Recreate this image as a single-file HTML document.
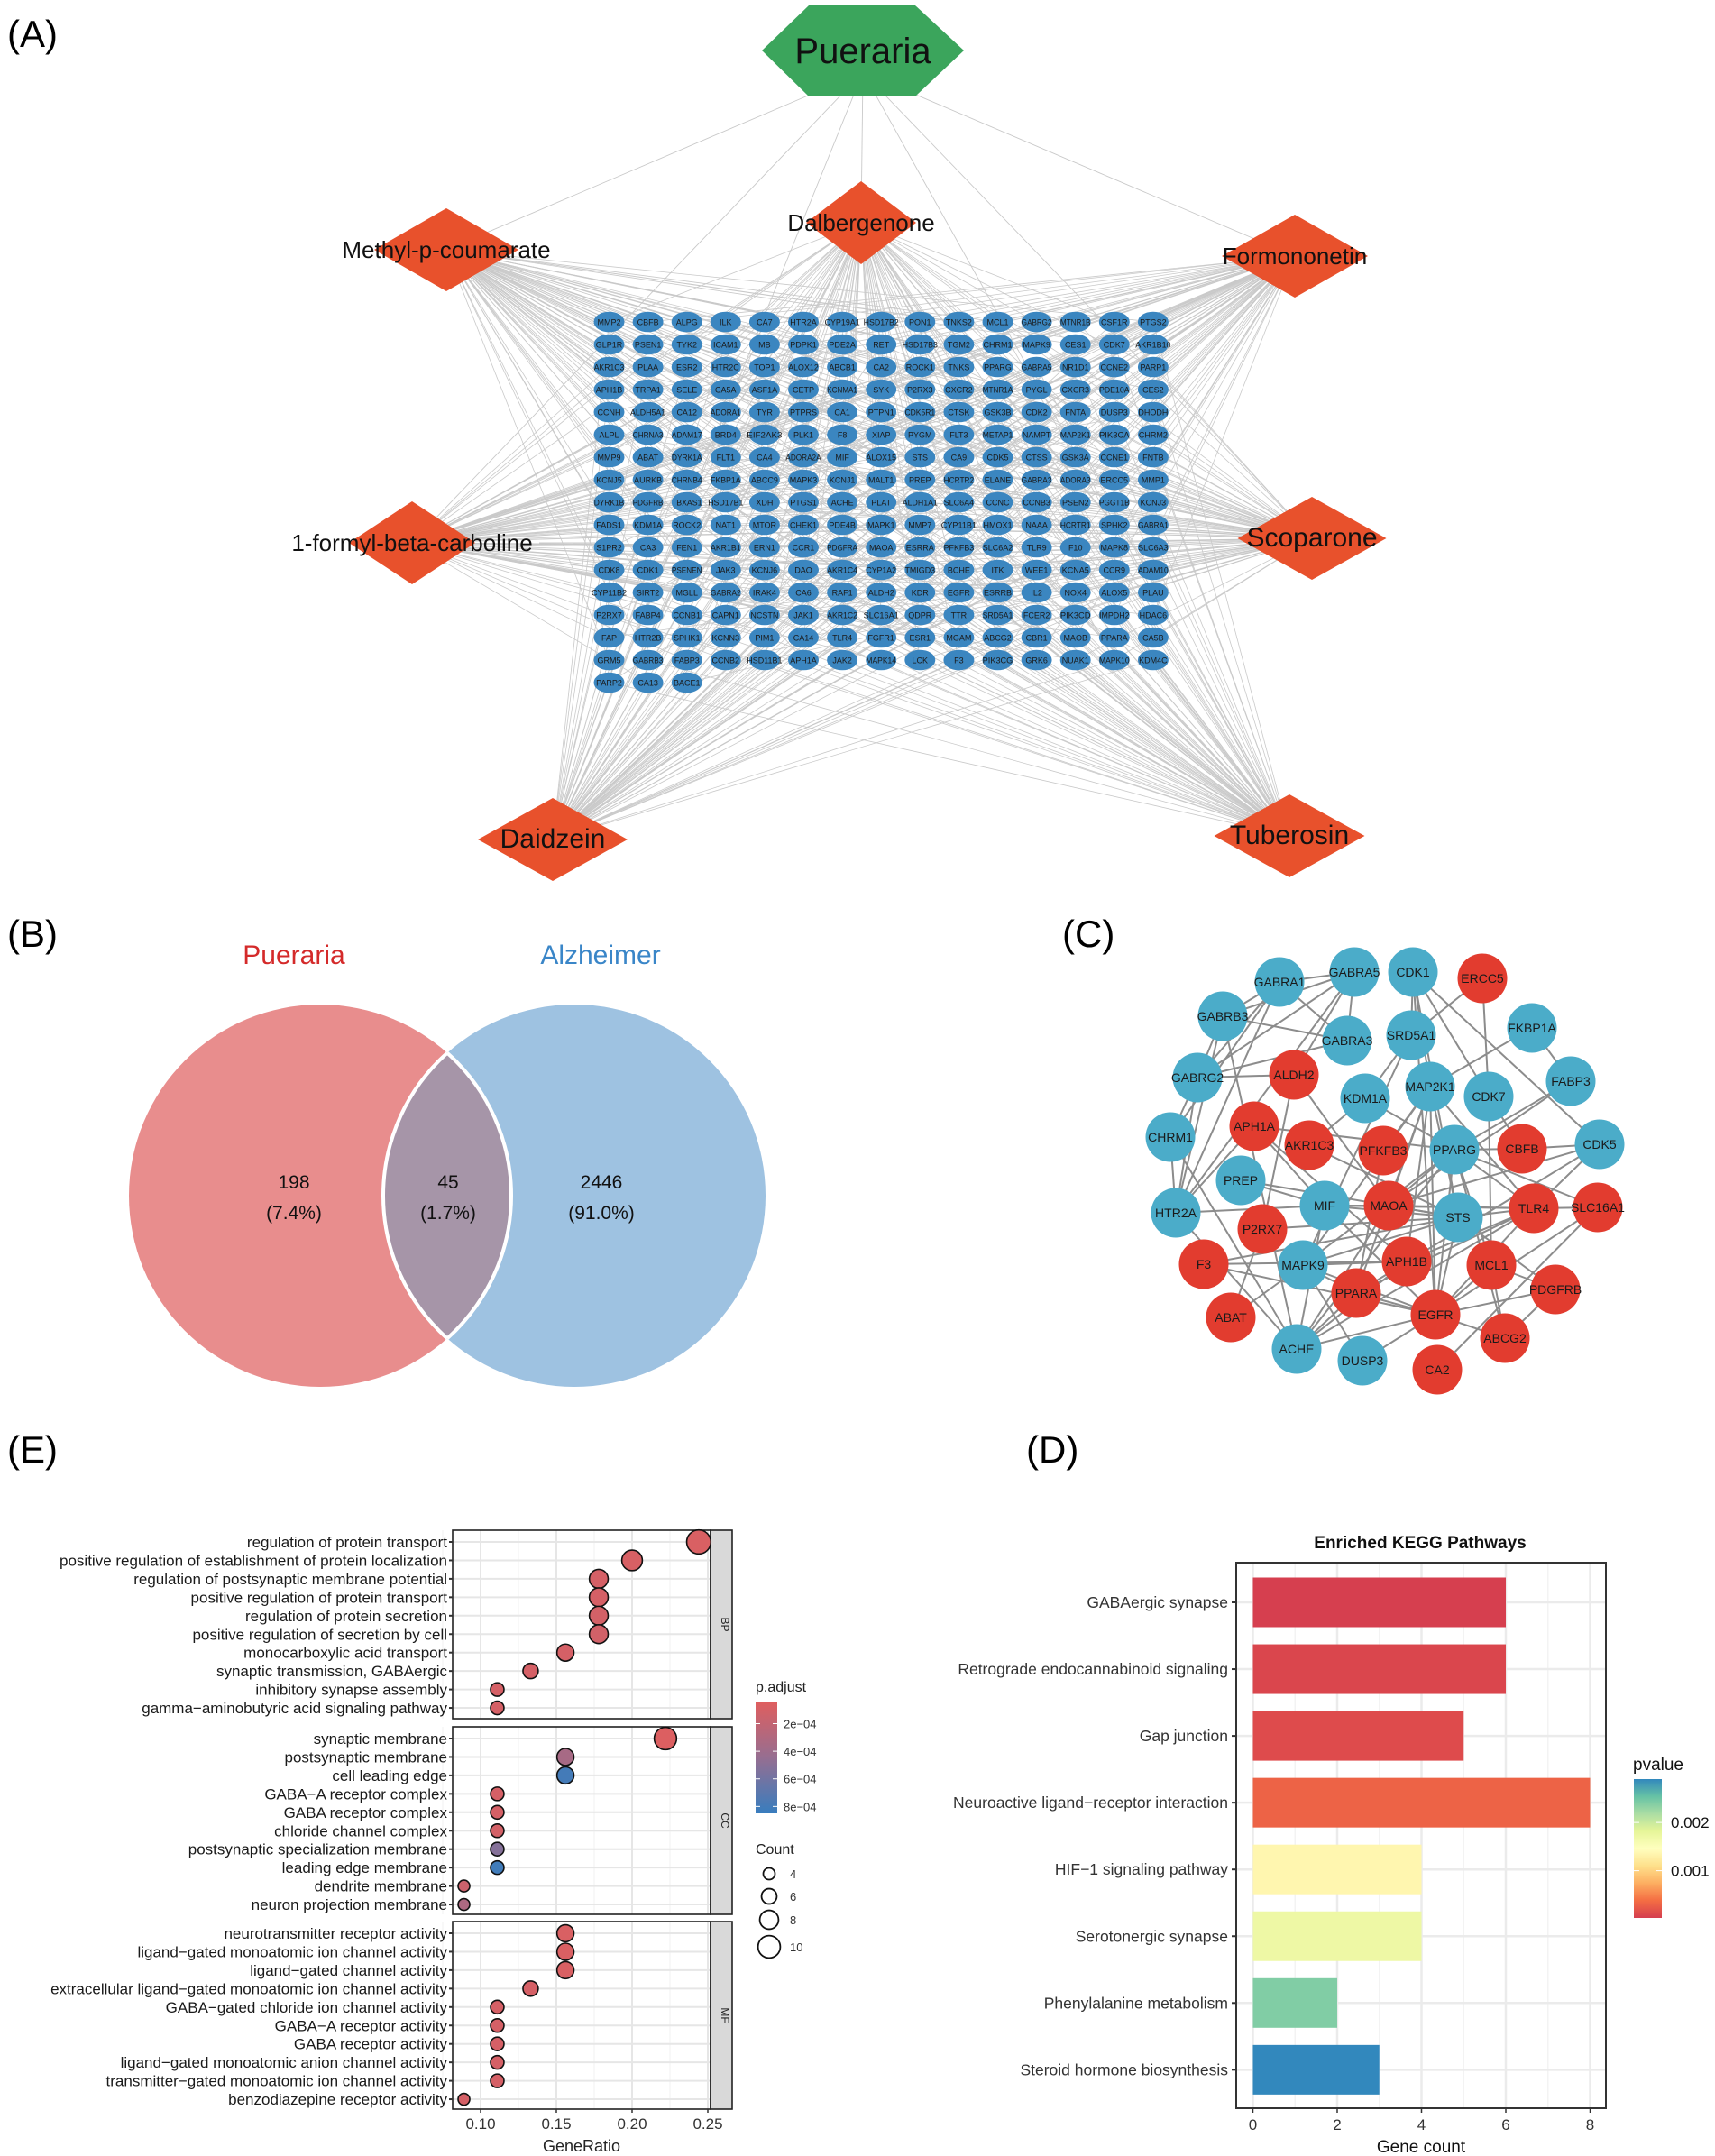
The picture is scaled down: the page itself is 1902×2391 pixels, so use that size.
<!DOCTYPE html>
<html><head><meta charset="utf-8"><title>Pueraria network pharmacology figure</title>
<style>
html,body{margin:0;padding:0;background:#fff;}
svg{display:block;font-family:"Liberation Sans",Arial,sans-serif;}
</style></head>
<body>
<svg id="fig" xmlns="http://www.w3.org/2000/svg" width="1902" height="2391" viewBox="0 0 1902 2391">
<rect width="1902" height="2391" fill="#fff"/>
<g id="panelA">
  <g id="aEdges"></g>
  <g id="aNodes"></g>
  <g id="aComp"></g>
</g>
<text x="8" y="52" font-size="42">(A)</text>
<text x="8" y="1050" font-size="42">(B)</text>
<text x="1178" y="1050" font-size="42">(C)</text>
<text x="8" y="1622" font-size="42">(E)</text>
<text x="1138" y="1622" font-size="42">(D)</text>

<g id="panelB">
  <defs><clipPath id="clipL"><circle cx="355" cy="1326" r="212"/></clipPath><clipPath id="clipR"><circle cx="637" cy="1326" r="212"/></clipPath></defs>
  <circle cx="355" cy="1326" r="212" fill="#e88d8d"/>
  <circle cx="637" cy="1326" r="212" fill="#9ec2e1"/>
  <circle cx="637" cy="1326" r="212" fill="#a695a8" clip-path="url(#clipL)"/>
  <circle cx="355" cy="1326" r="212" fill="none" stroke="#fff" stroke-width="4" clip-path="url(#clipR)"/>
  <circle cx="637" cy="1326" r="212" fill="none" stroke="#fff" stroke-width="4" clip-path="url(#clipL)"/>
  <text x="326" y="1069" font-size="30" fill="#d42a2a" text-anchor="middle">Pueraria</text>
  <text x="666" y="1069" font-size="30" fill="#3a86c8" text-anchor="middle">Alzheimer</text>
  <g font-size="21" text-anchor="middle" fill="#111">
    <text x="326" y="1318">198</text>
    <text x="326" y="1352">(7.4%)</text>
    <text x="497" y="1318">45</text>
    <text x="497" y="1352">(1.7%)</text>
    <text x="667" y="1318">2446</text>
    <text x="667" y="1352">(91.0%)</text>
  </g>
</g>

<g id="panelC">
  <g id="cEdges"></g><g id="cNodes"></g>
</g>

<g id="panelE"></g>
<g id="panelD"></g>
</svg>

<script>
var NS="http://www.w3.org/2000/svg";
function mk(tag,attrs,parent){var e=document.createElementNS(NS,tag);for(var k in attrs)e.setAttribute(k,attrs[k]);if(parent)parent.appendChild(e);return e;}

/* ===== Panel A data ===== */
var targetRows=[
"MMP2 CBFB ALPG ILK CA7 HTR2A CYP19A1 HSD17B2 PON1 TNKS2 MCL1 GABRG2 MTNR1B CSF1R PTGS2",
"GLP1R PSEN1 TYK2 ICAM1 MB PDPK1 PDE2A RET HSD17B3 TGM2 CHRM1 MAPK9 CES1 CDK7 AKR1B10",
"AKR1C3 PLAA ESR2 HTR2C TOP1 ALOX12 ABCB1 CA2 ROCK1 TNKS PPARG GABRA5 NR1D1 CCNE2 PARP1",
"APH1B TRPA1 SELE CA5A ASF1A CETP KCNMA1 SYK P2RX3 CXCR2 MTNR1A PYGL CXCR3 PDE10A CES2",
"CCNH ALDH5A1 CA12 ADORA1 TYR PTPRS CA1 PTPN1 CDK5R1 CTSK GSK3B CDK2 FNTA DUSP3 DHODH",
"ALPL CHRNA3 ADAM17 BRD4 EIF2AK3 PLK1 F8 XIAP PYGM FLT3 METAP1 NAMPT MAP2K1 PIK3CA CHRM2",
"MMP9 ABAT DYRK1A FLT1 CA4 ADORA2A MIF ALOX15 STS CA9 CDK5 CTSS GSK3A CCNE1 FNTB",
"KCNJ5 AURKB CHRNB4 FKBP1A ABCC9 MAPK3 KCNJ1 MALT1 PREP HCRTR2 ELANE GABRA3 ADORA3 ERCC5 MMP1",
"DYRK1B PDGFRB TBXAS1 HSD17B1 XDH PTGS1 ACHE PLAT ALDH1A1 SLC6A4 CCNC CCNB3 PSEN2 PGGT1B KCNJ3",
"FADS1 KDM1A ROCK2 NAT1 MTOR CHEK1 PDE4B MAPK1 MMP7 CYP11B1 HMOX1 NAAA HCRTR1 SPHK2 GABRA1",
"S1PR2 CA3 FEN1 AKR1B1 ERN1 CCR1 PDGFRA MAOA ESRRA PFKFB3 SLC6A2 TLR9 F10 MAPK8 SLC6A3",
"CDK8 CDK1 PSENEN JAK3 KCNJ6 DAO AKR1C4 CYP1A2 TMIGD3 BCHE ITK WEE1 KCNA5 CCR9 ADAM10",
"CYP11B2 SIRT2 MGLL GABRA2 IRAK4 CA6 RAF1 ALDH2 KDR EGFR ESRRB IL2 NOX4 ALOX5 PLAU",
"P2RX7 FABP4 CCNB1 CAPN1 NCSTN JAK1 AKR1C2 SLC16A1 QDPR TTR SRD5A1 FCER2 PIK3CD IMPDH2 HDAC6",
"FAP HTR2B SPHK1 KCNN3 PIM1 CA14 TLR4 FGFR1 ESR1 MGAM ABCG2 CBR1 MAOB PPARA CA5B",
"GRM5 GABRB3 FABP3 CCNB2 HSD11B1 APH1A JAK2 MAPK14 LCK F3 PIK3CG GRK6 NUAK1 MAPK10 KDM4C",
"PARP2 CA13 BACE1"];
var compoundNames=["Dalbergenone","Methyl-p-coumarate","Formononetin","1-formyl-beta-carboline","Scoparone","Daidzein","Tuberosin"];
var compoundX=[955,495,1436,457,1455,613,1430];
var compoundY=[247,277,284,602,597,931,927];
var compoundW=[122,160,162,140,165,166,167];

(function(){
  var gE=document.getElementById('aEdges'),gN=document.getElementById('aNodes'),gC=document.getElementById('aComp');
  var nodes=[];
  targetRows.forEach(function(r,i){r.split(' ').forEach(function(n,j){nodes.push({n:n,x:675.5+j*43.1,y:357+i*25});});});
  compoundNames.forEach(function(c,k){
    nodes.forEach(function(nd,i){
      if(((i*7+k*11)%9)<3){
        var l=mk('line',{x1:compoundX[k],y1:compoundY[k],x2:nd.x,y2:nd.y,stroke:'#c9c9c9','stroke-width':0.8},gE);
        
        
      }
    });
    var p=mk('line',{x1:957,y1:80,x2:compoundX[k],y2:compoundY[k],stroke:'#c9c9c9','stroke-width':0.9},gE);
    
    
  });
  nodes.forEach(function(nd){
    var g=mk('g',{},gN);
    
    
    mk('ellipse',{cx:nd.x,cy:nd.y,rx:17,ry:11.3,fill:'#3b86c0'},g);
    var t=mk('text',{x:nd.x,y:nd.y+3.3,'font-size':9,'text-anchor':'middle',fill:'#1a1a1a'},g);
    if(nd.n.length>5){t.setAttribute('textLength',Math.min(40,nd.n.length*5.6));t.setAttribute('lengthAdjust','spacingAndGlyphs');}
    t.textContent=nd.n;
  });
  var hg=mk('g',{},gC);
  
  
  mk('polygon',{points:'845,56 897,6 1015,6 1069,56 1015,107 897,107',fill:'#3ba55c'},hg);
  var ht=mk('text',{x:957,y:70,'font-size':40,'text-anchor':'middle',fill:'#111'},hg);ht.textContent='Pueraria';
  compoundNames.forEach(function(c,k){
    var g=mk('g',{},gC);
    
    
    var x=compoundX[k],y=compoundY[k],w=compoundW[k]/2,h=46;
    mk('polygon',{points:(x-w)+','+y+' '+x+','+(y-h)+' '+(x+w)+','+y+' '+x+','+(y+h),fill:'#e8512c'},g);
    var fs=(k===5||k===6||k===4)?30:26;
    var t=mk('text',{x:x,y:y+9,'font-size':fs,'text-anchor':'middle',fill:'#111'},g);
    t.textContent=c;
  });
  mk('line',{x1:598,y1:602,x2:660,y2:602,stroke:'#c9c9c9','stroke-width':1},gE);
})();

/* ===== Panel C data ===== */
var ppiNames=["GABRA1","GABRA5","CDK1","ERCC5","GABRB3","GABRA3","SRD5A1","FKBP1A","GABRG2","ALDH2","MAP2K1","CDK7","KDM1A","FABP3","CHRM1","APH1A","AKR1C3","PFKFB3","PPARG","CBFB","CDK5","PREP","HTR2A","MIF","MAOA","STS","TLR4","SLC16A1","P2RX7","F3","MAPK9","APH1B","MCL1","PDGFRB","PPARA","EGFR","ABAT","ACHE","DUSP3","ABCG2","CA2"];
var ppiX=[1419,1502,1567,1644,1356,1494,1565,1699,1328,1435,1586,1651,1514,1742,1298,1391,1452,1534,1613,1688,1774,1376,1304,1469,1540,1617,1701,1772,1400,1335,1445,1560,1654,1725,1504,1592,1365,1438,1511,1669,1594];
var ppiY=[1089,1078,1078,1085,1127,1154,1148,1140,1195,1192,1205,1216,1218,1199,1261,1249,1270,1276,1275,1274,1269,1309,1345,1337,1337,1350,1340,1339,1363,1402,1403,1399,1403,1430,1434,1458,1461,1496,1509,1484,1519];
var ppiRed=[0,0,0,1,0,0,0,0,0,1,0,0,0,0,0,1,1,1,0,1,0,0,0,0,1,0,1,1,1,1,0,1,1,1,1,1,1,0,0,1,1];
var ppiEdges="GABRA1-GABRA5 GABRA1-GABRB3 GABRA1-GABRG2 GABRA1-HTR2A GABRA1-CHRM1 GABRA1-GABRA3 GABRA5-GABRA3 GABRA5-GABRB3 GABRA5-GABRG2 GABRA5-HTR2A GABRA5-ALDH2 GABRB3-GABRG2 GABRB3-GABRA3 GABRB3-HTR2A GABRG2-GABRA3 GABRG2-CHRM1 GABRG2-HTR2A CHRM1-HTR2A CHRM1-ACHE HTR2A-MIF HTR2A-APH1A CDK1-MAP2K1 CDK1-EGFR CDK1-CDK7 CDK1-SRD5A1 CDK1-CDK5 CDK1-STS ERCC5-CDK7 ERCC5-SRD5A1 SRD5A1-KDM1A SRD5A1-MAPK9 FKBP1A-FABP3 FKBP1A-MAP2K1 FABP3-PPARG FABP3-MAOA CDK7-MCL1 CDK7-CBFB KDM1A-AKR1C3 KDM1A-PPARG MAP2K1-PFKFB3 MAP2K1-MAOA MAP2K1-EGFR MAP2K1-STS MAP2K1-TLR4 MAP2K1-MAPK9 MAP2K1-PPARA MAP2K1-APH1B ALDH2-P2RX7 ALDH2-MAOA GABRG2-ALDH2 APH1A-APH1B APH1A-PPARG APH1A-MIF AKR1C3-STS PFKFB3-PPARA PPARG-CBFB PPARG-TLR4 PPARG-MCL1 PPARG-MAOA PPARG-MAPK9 PPARG-ACHE PPARG-EGFR PPARG-ABCG2 CBFB-CDK5 CDK5-TLR4 CDK5-MAOA CDK5-PPARA PREP-MIF PREP-STS MIF-MAOA MIF-STS MIF-TLR4 MIF-ACHE MIF-EGFR MAOA-STS MAOA-TLR4 MAOA-ACHE STS-TLR4 STS-P2RX7 STS-MAPK9 STS-EGFR STS-PDGFRB TLR4-EGFR TLR4-PPARA TLR4-APH1B TLR4-SLC16A1 TLR4-ACHE SLC16A1-PPARG SLC16A1-EGFR SLC16A1-CA2 P2RX7-ABAT F3-APH1B F3-EGFR F3-STS MAPK9-EGFR MAPK9-DUSP3 MAPK9-APH1B MAPK9-PPARA APH1B-ACHE MCL1-EGFR MCL1-PDGFRB MCL1-ABCG2 PDGFRB-EGFR PDGFRB-ABCG2 PPARA-EGFR PPARA-ACHE EGFR-ABCG2 EGFR-ACHE EGFR-DUSP3 ABAT-MAPK9 HTR2A-ACHE GABRB3-ACHE".split(' ');
(function(){
  var gE=document.getElementById('cEdges'),gN=document.getElementById('cNodes');
  ppiEdges.forEach(function(e){
    var p=e.split('-'),a=ppiNames.indexOf(p[0]),b=ppiNames.indexOf(p[1]);
    if(a<0||b<0)return;
    var l=mk('line',{x1:ppiX[a],y1:ppiY[a],x2:ppiX[b],y2:ppiY[b],stroke:'#8c8c8c','stroke-width':2},gE);
    
    
  });
  ppiNames.forEach(function(n,i){
    var g=mk('g',{},gN);
    
    
    mk('circle',{cx:ppiX[i],cy:ppiY[i],r:27.5,fill:ppiRed[i]?'#e23c2f':'#4bacc9'},g);
    var t=mk('text',{x:ppiX[i],y:ppiY[i]+5,'font-size':14,'text-anchor':'middle',fill:'#1a1a1a'},g);
    t.textContent=n;
  });
})();

/* ===== Panel E data ===== */
var goTerms=["regulation of protein transport","positive regulation of establishment of protein localization","regulation of postsynaptic membrane potential","positive regulation of protein transport","regulation of protein secretion","positive regulation of secretion by cell","monocarboxylic acid transport","synaptic transmission, GABAergic","inhibitory synapse assembly","gamma\u2212aminobutyric acid signaling pathway",
"synaptic membrane","postsynaptic membrane","cell leading edge","GABA\u2212A receptor complex","GABA receptor complex","chloride channel complex","postsynaptic specialization membrane","leading edge membrane","dendrite membrane","neuron projection membrane",
"neurotransmitter receptor activity","ligand\u2212gated monoatomic ion channel activity","ligand\u2212gated channel activity","extracellular ligand\u2212gated monoatomic ion channel activity","GABA\u2212gated chloride ion channel activity","GABA\u2212A receptor activity","GABA receptor activity","ligand\u2212gated monoatomic anion channel activity","transmitter\u2212gated monoatomic ion channel activity","benzodiazepine receptor activity"];
var goOntology=["BP","CC","MF"];
var goRatio=[0.244,0.200,0.178,0.178,0.178,0.178,0.156,0.133,0.111,0.111, 0.222,0.156,0.156,0.111,0.111,0.111,0.111,0.111,0.089,0.089, 0.156,0.156,0.156,0.133,0.111,0.111,0.111,0.111,0.111,0.089];
var goCount=[11,9,8,8,8,8,7,6,5,5, 10,7,7,5,5,5,5,5,4,4, 7,7,7,6,5,5,5,5,5,4];
var goPadj=[0.00008,0.00009,0.0001,0.0001,0.00011,0.00012,0.0001,0.0001,0.0001,0.0001, 0.00006,0.00035,0.0008,0.0001,0.0001,0.00011,0.00052,0.00081,0.00015,0.00032, 0.00008,0.00008,0.00008,0.0001,0.0001,0.0001,0.0001,0.0001,0.0001,0.0001];
var goXTicks=[0.10,0.15,0.20,0.25];
var padjTicks=[0.0002,0.0004,0.0006,0.0008];
var countTicks=[4,6,8,10];

(function(){
  var P=document.getElementById('panelE');
  var xl=502,xr=788,X=function(v){return 533+(v-0.10)*1680;};
  var panelTop=[1697,1915,2131],panelBot=[1906,2123,2339];
  var rowY=function(i){var p=Math.floor(i/10),j=i%10;return panelTop[p]+13+j*20.45;};
  var pmin=0.00004,pmax=0.00085;
  function pcol(p){var t=Math.max(0,Math.min(1,(p-pmin)/(pmax-pmin)));
    var a=[224,94,94],b=[150,110,145],c=[56,125,190];var u,v,s;
    if(t<0.5){u=a;v=b;s=t/0.5;}else{u=b;v=c;s=(t-0.5)/0.5;}
    return 'rgb('+Math.round(u[0]+(v[0]-u[0])*s)+','+Math.round(u[1]+(v[1]-u[1])*s)+','+Math.round(u[2]+(v[2]-u[2])*s)+')';}
  function rad(c){return 6.5+(c-4)*0.98;}
  for(var p=0;p<3;p++){
    var g=mk('g',{},P);
    
    
    mk('rect',{x:xl,y:panelTop[p],width:xr-xl,height:panelBot[p]-panelTop[p],fill:'#fff'},g);
    [0.075,0.125,0.175,0.225].forEach(function(v){mk('line',{x1:X(v),x2:X(v),y1:panelTop[p],y2:panelBot[p],stroke:'#f2f2f2','stroke-width':1},g);});
    goXTicks.forEach(function(v){mk('line',{x1:X(v),x2:X(v),y1:panelTop[p],y2:panelBot[p],stroke:'#e6e6e6','stroke-width':2},g);});
    for(var j=0;j<10;j++){mk('line',{x1:xl,x2:xr,y1:rowY(p*10+j),y2:rowY(p*10+j),stroke:'#e6e6e6','stroke-width':2},g);}
    mk('rect',{x:xl,y:panelTop[p],width:xr-xl,height:panelBot[p]-panelTop[p],fill:'none',stroke:'#222','stroke-width':1.6},g);
    var s=mk('rect',{x:xr,y:panelTop[p],width:24,height:panelBot[p]-panelTop[p],fill:'#d9d9d9',stroke:'#222','stroke-width':1.6},g);
    
    
    var cy=(panelTop[p]+panelBot[p])/2;
    var st=mk('text',{x:xr+12,y:cy,'font-size':12,'text-anchor':'middle',fill:'#222',transform:'rotate(90 '+(xr+12)+' '+cy+')'},g);
    st.textContent=goOntology[p];
  }
  goTerms.forEach(function(t,i){
    var y=rowY(i);
    var lb=mk('text',{x:496,y:y+6,'font-size':17,'text-anchor':'end',fill:'#1a1a1a'},P);
    lb.textContent=t;
    
    
    mk('line',{x1:498,x2:502,y1:y,y2:y,stroke:'#333','stroke-width':2},P);
    var c=mk('circle',{cx:X(goRatio[i]),cy:y,r:rad(goCount[i]),fill:pcol(goPadj[i]),stroke:'#111','stroke-width':1.6},P);
    
    
  });
  goXTicks.forEach(function(v){
    mk('line',{x1:X(v),x2:X(v),y1:2339,y2:2343,stroke:'#333','stroke-width':1.5},P);
    var t=mk('text',{x:X(v),y:2361,'font-size':17,'text-anchor':'middle',fill:'#333'},P);
    t.textContent=v.toFixed(2);
    
    
  });
  var xt=mk('text',{x:645,y:2386,'font-size':18,'text-anchor':'middle',fill:'#222'},P);xt.textContent='GeneRatio';
  
  
  var defs=mk('defs',{},P);var lg=mk('linearGradient',{id:'padjGrad',x1:0,y1:0,x2:0,y2:1},defs);
  mk('stop',{offset:'0%','stop-color':pcol(pmin)},lg);mk('stop',{offset:'50%','stop-color':pcol((pmin+pmax)/2)},lg);mk('stop',{offset:'100%','stop-color':pcol(pmax)},lg);
  var lt=mk('text',{x:838,y:1876,'font-size':16,fill:'#222'},P);lt.textContent='p.adjust';
  
  
  mk('rect',{x:838,y:1887,width:24,height:124,fill:'url(#padjGrad)'},P);
  var PY=function(v){return 1887+(v-pmin)/(pmax-pmin)*124;};
  padjTicks.forEach(function(v){var y=PY(v);
    mk('line',{x1:838,x2:843,y1:y,y2:y,stroke:'#fff','stroke-width':1},P);mk('line',{x1:857,x2:862,y1:y,y2:y,stroke:'#fff','stroke-width':1},P);
    var t=mk('text',{x:869,y:y+5,'font-size':13,fill:'#333'},P);t.textContent=(v*1e4).toFixed(0)+'e\u221204';
    
    
  });
  var ct=mk('text',{x:838,y:2056,'font-size':16,fill:'#222'},P);ct.textContent='Count';
  
  
  var cys=[2078,2103,2129,2159];
  countTicks.forEach(function(c,i){
    mk('circle',{cx:853,cy:cys[i],r:rad(c),fill:'none',stroke:'#111','stroke-width':1.8},P);
    var t=mk('text',{x:876,y:cys[i]+5,'font-size':13,fill:'#333'},P);t.textContent=c;
    
    
  });
})();

/* ===== Panel D data ===== */
var keggTerms=["GABAergic synapse","Retrograde endocannabinoid signaling","Gap junction","Neuroactive ligand\u2212receptor interaction","HIF\u22121 signaling pathway","Serotonergic synapse","Phenylalanine metabolism","Steroid hormone biosynthesis"];
var keggCount=[6,6,5,8,4,4,2,3];
var keggP=[0.00003,0.00008,0.00012,0.00030,0.00135,0.00170,0.00240,0.00290];
var keggXTicks=[0,2,4,6,8];
var pvalTicks=[0.001,0.002];

(function(){
  var P=document.getElementById('panelD');
  var L=1371,R=1781,T=1733,B=2338;
  var X=function(v){return 1389.5+v*46.75;};
  var rowY=function(i){return 1777+i*74.05;};
  var stops=[[213,62,79],[244,109,67],[253,174,97],[254,224,139],[255,255,191],[230,245,152],[171,221,164],[102,194,165],[50,136,189]];
  var pmin=0.00002,pmax=0.0029;
  function scol(p){var t=Math.max(0,Math.min(1,(p-pmin)/(pmax-pmin)))*(stops.length-1);var i=Math.min(stops.length-2,Math.floor(t)),s=t-i;
    var a=stops[i],b=stops[i+1];return 'rgb('+Math.round(a[0]+(b[0]-a[0])*s)+','+Math.round(a[1]+(b[1]-a[1])*s)+','+Math.round(a[2]+(b[2]-a[2])*s)+')';}
  var ti=mk('text',{x:1575,y:1717,'font-size':19,'font-weight':'bold','text-anchor':'middle',fill:'#111'},P);ti.textContent='Enriched KEGG Pathways';
  
  
  mk('rect',{x:L,y:T,width:R-L,height:B-T,fill:'#fff'},P);
  [1,3,5,7].forEach(function(v){mk('line',{x1:X(v),x2:X(v),y1:T,y2:B,stroke:'#f3f3f3','stroke-width':1.5},P);});
  keggXTicks.forEach(function(v){mk('line',{x1:X(v),x2:X(v),y1:T,y2:B,stroke:'#ebebeb','stroke-width':2.5},P);});
  keggTerms.forEach(function(t,i){mk('line',{x1:L,x2:R,y1:rowY(i),y2:rowY(i),stroke:'#ebebeb','stroke-width':2.5},P);});
  keggTerms.forEach(function(t,i){
    var y=rowY(i);
    var b=mk('rect',{x:X(0),y:y-27.5,width:X(keggCount[i])-X(0),height:55,fill:scol(keggP[i])},P);
    
    
    var lb=mk('text',{x:1362,y:y+6,'font-size':17.5,'text-anchor':'end',fill:'#333'},P);lb.textContent=t;
    
    
    mk('line',{x1:1366,x2:1371,y1:y,y2:y,stroke:'#333','stroke-width':2},P);
  });
  mk('rect',{x:L,y:T,width:R-L,height:B-T,fill:'none',stroke:'#333','stroke-width':2},P);
  keggXTicks.forEach(function(v){
    mk('line',{x1:X(v),x2:X(v),y1:B,y2:B+5,stroke:'#333','stroke-width':1.5},P);
    var t=mk('text',{x:X(v),y:2362,'font-size':17,'text-anchor':'middle',fill:'#333'},P);t.textContent=v;
    
    
  });
  var xt=mk('text',{x:1576,y:2387,'font-size':19,'text-anchor':'middle',fill:'#111'},P);xt.textContent='Gene count';
  
  
  var defs=mk('defs',{},P);var lg=mk('linearGradient',{id:'pvGrad',x1:0,y1:1,x2:0,y2:0},defs);
  stops.forEach(function(s,i){mk('stop',{offset:(i/(stops.length-1)*100)+'%','stop-color':'rgb('+s.join(',')+')'},lg);});
  var lt=mk('text',{x:1811,y:1963,'font-size':19,fill:'#111'},P);lt.textContent='pvalue';
  
  
  mk('rect',{x:1812,y:1973,width:31,height:154,fill:'url(#pvGrad)'},P);
  var PY=function(v){return 2127-(v-pmin)/(pmax-pmin)*154;};
  pvalTicks.forEach(function(v){var y=PY(v);
    mk('line',{x1:1812,x2:1818,y1:y,y2:y,stroke:'#fff','stroke-width':1},P);mk('line',{x1:1837,x2:1843,y1:y,y2:y,stroke:'#fff','stroke-width':1},P);
    var t=mk('text',{x:1853,y:y+6,'font-size':17,fill:'#111'},P);t.textContent=v.toFixed(3);
    
    
  });
})();
</script>
</body></html>
